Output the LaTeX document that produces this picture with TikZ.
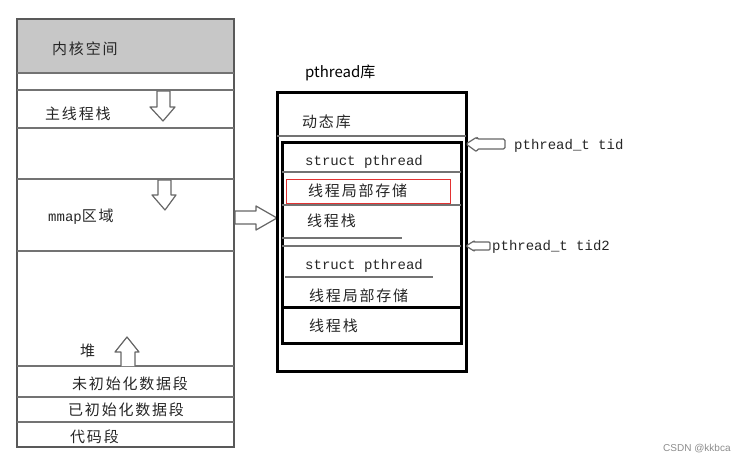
\documentclass[tikz,border=0pt]{standalone}
\usepackage{fontspec}
\setmainfont{Liberation Sans}
\newfontfamily\cjk[LetterSpace=12]{Noto Sans CJK SC}
\newfontfamily\cjkplain{Noto Sans CJK SC}
\newfontfamily\monof{Liberation Mono}
\begin{document}
\begin{tikzpicture}[x=1pt,y=-1pt,
  lbl/.style={anchor=west,inner sep=0pt,text=black!85,font=\cjk\fontsize{15}{15}\selectfont},
  mono/.style={anchor=west,inner sep=0pt,text=black!85,font=\monof\fontsize{14}{14}\selectfont},
  seg/.style={draw=black!65,line width=1.3pt},
  thick box/.style={draw=black,line width=3pt},
  blockarrow/.style={draw=black!60,line width=1.2pt,fill=white,line join=round},
  sep/.style={draw=black!55,line width=1.3pt}]
\useasboundingbox (0,0) rectangle (747,462);
% ---------- left memory layout ----------
\fill[black!22] (17,19) rectangle (234,73);
\draw[seg] (17,19) rectangle (234,447);
\foreach \yy in {73,90,128,179,251,366,397,422}
  \draw[sep] (17,\yy) -- (234,\yy);
% down / up arrows
\draw[blockarrow] (157,91) -- (170,91) -- (170,107) -- (175,107) -- (163,121) -- (150,107) -- (157,107) -- cycle;
\draw[blockarrow] (158,180) -- (171,180) -- (171,195) -- (176,195) -- (165,210) -- (152,195) -- (158,195) -- cycle;
\draw[blockarrow] (121,366) -- (121,352) -- (115,352) -- (127,337) -- (139,352) -- (135,352) -- (135,366);
% labels
\node[lbl] (kern) at (52,49) {内核空间};
\node[lbl] (mstack) at (45,114) {主线程栈};
\node[anchor=west,inner sep=0pt,text=black!85] (mmap) at (48,217) {{\monof\fontsize{14}{14}\selectfont mmap}{\cjk\fontsize{15}{15}\selectfont 区域}};
\node[lbl] (heap) at (80,351) {堆};
\node[lbl] (bss) at (72,384) {未初始化数据段};
\node[lbl] (data) at (68,410) {已初始化数据段};
\node[lbl] (text) at (70,437) {代码段};
% arrow to pthread library
\draw[blockarrow] (235,211) -- (256,211) -- (256,206) -- (277,218) -- (256,230) -- (256,224) -- (235,224) -- cycle;
% ---------- pthread library ----------
\node[anchor=west,inner sep=0pt,text=black,font=\cjkplain\fontsize{15}{15}\selectfont] (libname) at (305,73) {pthread库};
\draw[thick box] (277,93) rectangle (466,371);
\draw[sep] (277,136) -- (466,136);
\draw[thick box] (282,143) rectangle (461,343);
\draw[sep] (282,172) -- (461,172);
\draw[sep] (282,205) -- (461,205);
\draw[sep] (282,238) -- (402,238);
\draw[sep] (282,246) -- (461,246);
\draw[sep] (285,277) -- (433,277);
\draw[line width=3pt] (282,308) -- (461,308);
\draw[draw={rgb,255:red,226;green,50;blue,50},line width=0.9pt] (286,179) rectangle (450,203);
\node[lbl] (dyn) at (302,122) {动态库};
\node[mono] (sp1) at (305,162) {struct pthread};
\node[lbl] (tls1) at (308,191) {线程局部存储};
\node[lbl] (ts1) at (307,221) {线程栈};
\node[mono] (sp2) at (305,266) {struct pthread};
\node[lbl] (tls2) at (309,296) {线程局部存储};
\node[lbl] (ts2) at (309,326) {线程栈};
% tid arrows
\draw[blockarrow,rounded corners=1.5pt] (466,144) -- (477,137) -- (477,139) -- (505,139) -- (505,149) -- (477,149) -- (477,152) -- cycle;
\draw[blockarrow,rounded corners=1pt] (466,246) -- (474,241) -- (474,242) -- (490,242) -- (490,250) -- (474,250) -- (474,251) -- cycle;
\node[mono] (tid) at (514,146) {pthread\_t tid};
\node[mono] (tid2) at (492,247) {pthread\_t tid2};
% watermark
\node[anchor=west,inner sep=0pt,text=black!45,font=\fontsize{10}{10}\selectfont] (wm) at (663,449) {CSDN @kkbca};
\end{tikzpicture}
\end{document}
